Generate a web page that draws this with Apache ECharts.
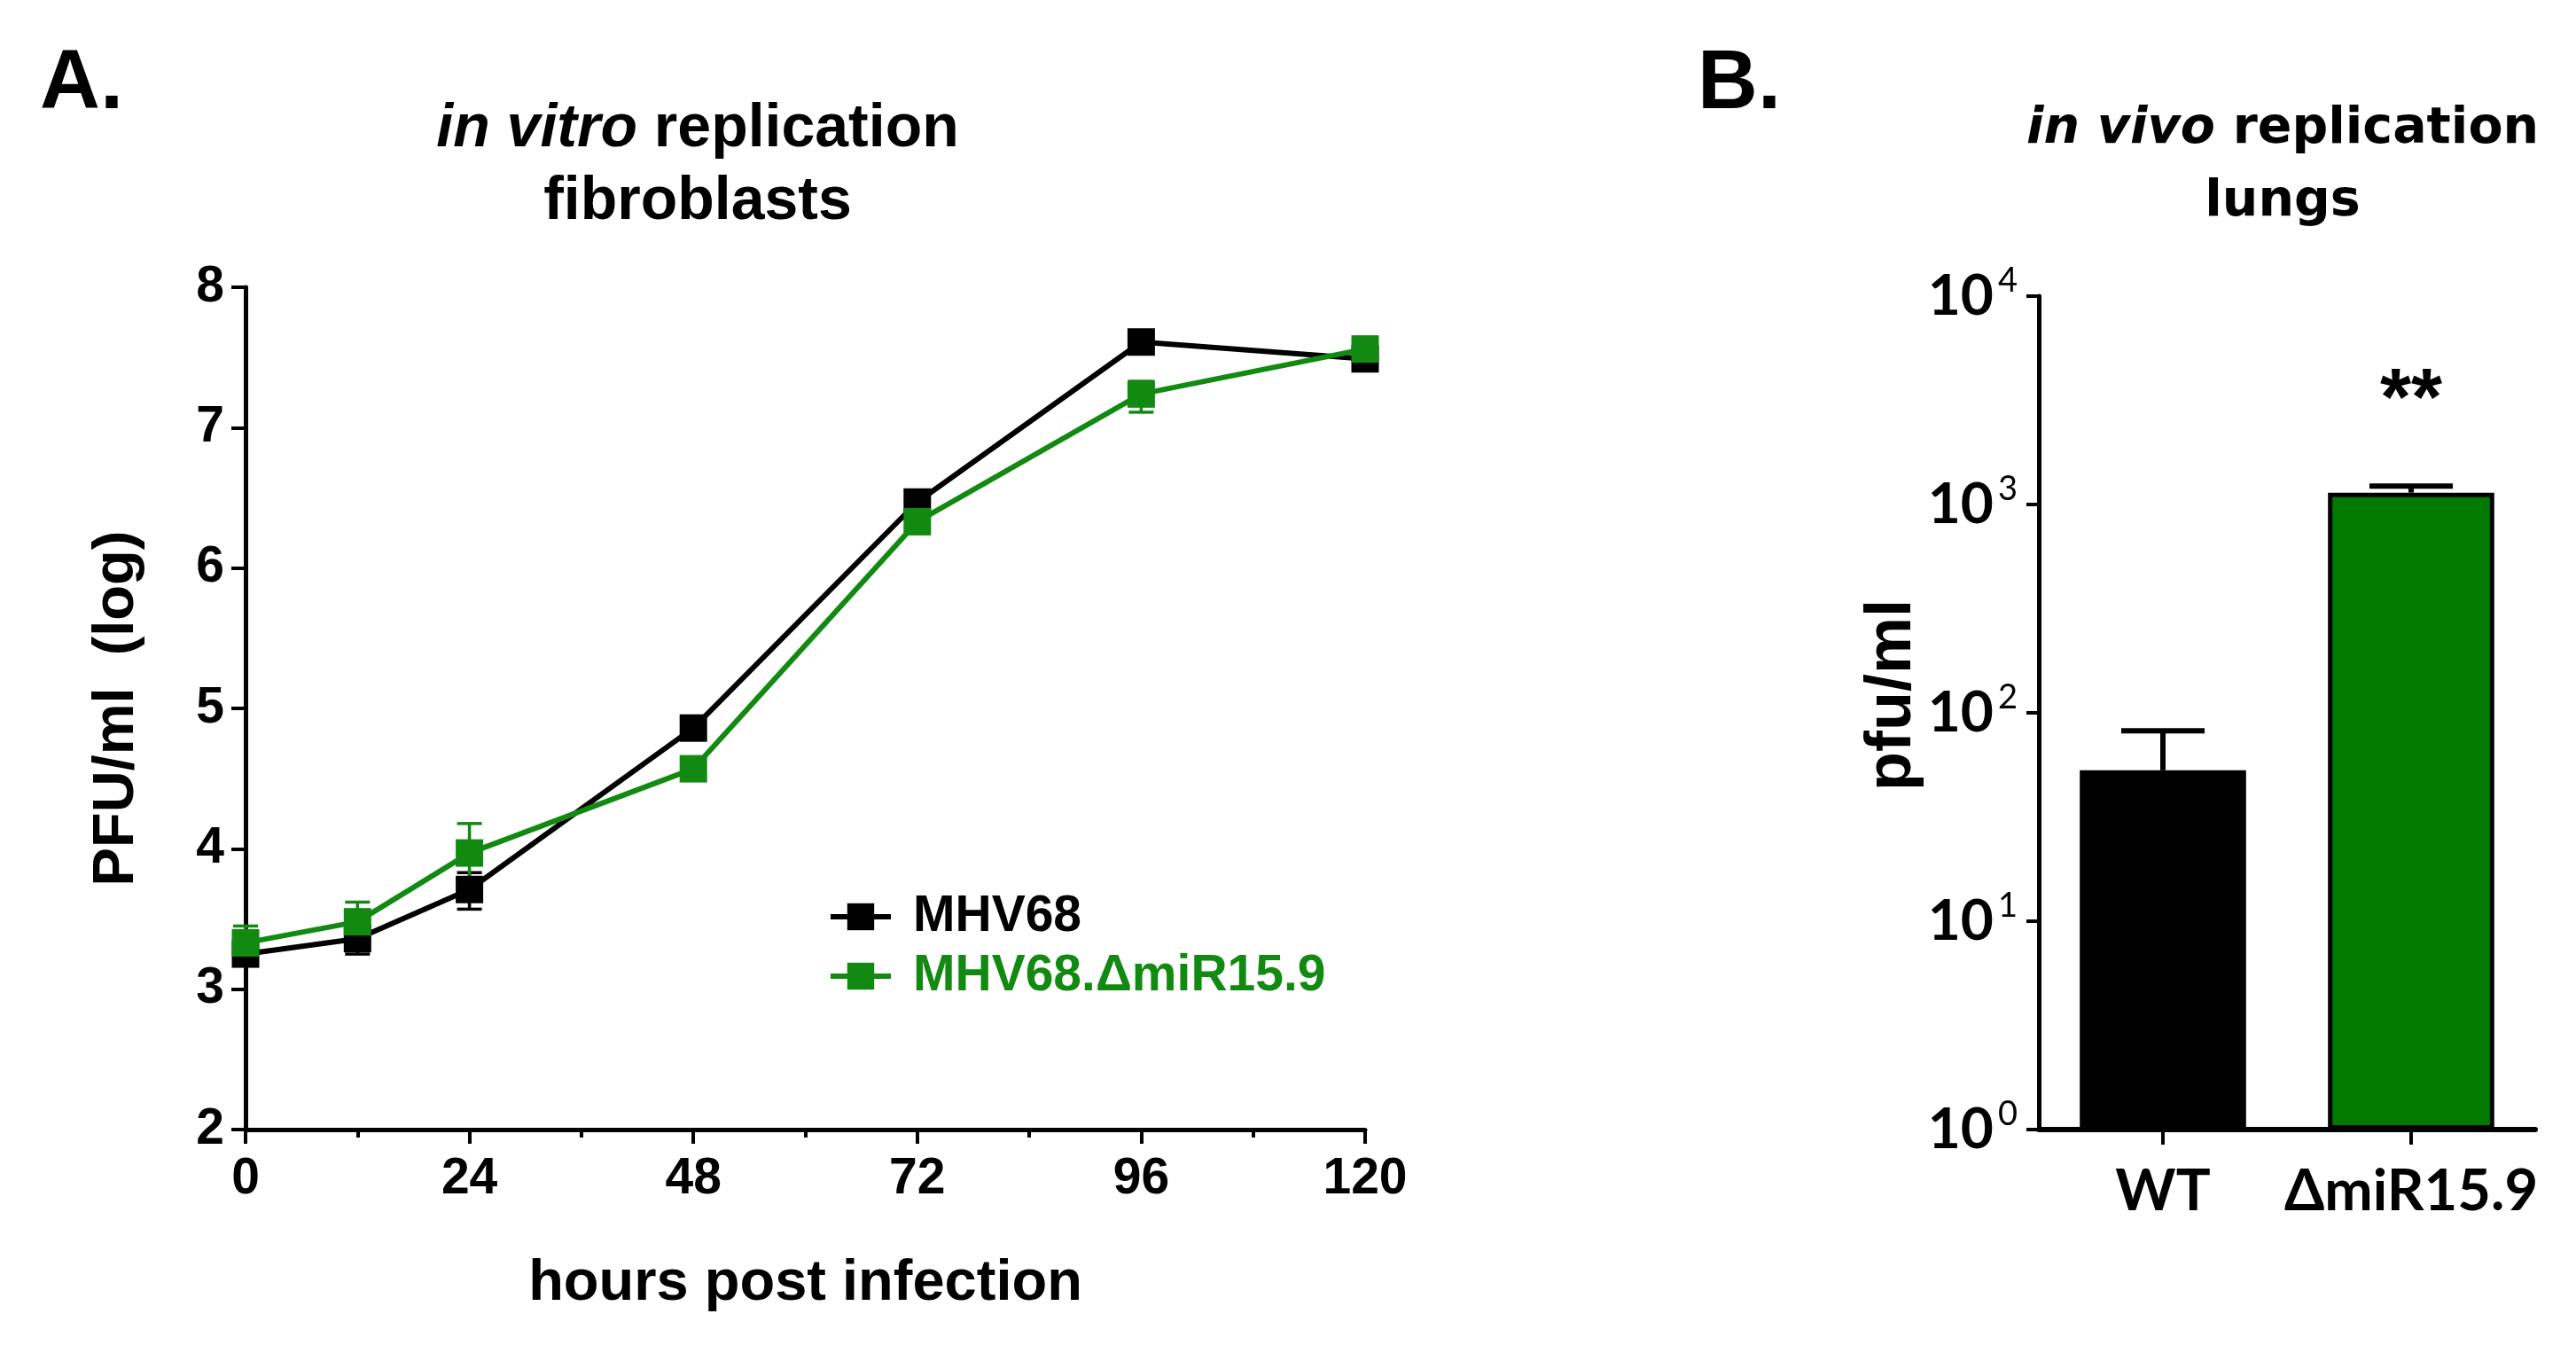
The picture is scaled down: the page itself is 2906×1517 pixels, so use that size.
<!DOCTYPE html>
<html>
<head>
<meta charset="utf-8">
<script src="https://cdn.jsdelivr.net/npm/echarts@6/dist/echarts.min.js"></script>
<style>
html,body{margin:0;padding:0;background:#fff;}
#c{width:2906px;height:1517px;}
</style>
</head>
<body>
<div id="c"></div>
<script>
// ---- Panel A data ----
const hours = [0, 12, 24, 48, 72, 96, 120];
const wtMean = [3.25, 3.36, 3.71, 4.86, 6.47, 7.61, 7.49];
const wtLow  = [3.20, 3.25, 3.57, 4.80, 6.42, 7.57, 7.45];
const wtHigh = [3.30, 3.45, 3.83, 4.92, 6.52, 7.65, 7.53];
const koMean = [3.33, 3.48, 3.97, 4.57, 6.33, 7.24, 7.56];
const koLow  = [3.21, 3.36, 3.77, 4.52, 6.28, 7.11, 7.52];
const koHigh = [3.45, 3.62, 4.18, 4.62, 6.38, 7.33, 7.60];
// ---- Panel B data ----
const groups = ['WT', '\u0394miR15.9'];
const pfuMean = [53, 1140];
const pfuHigh = [82, 1225];
const signif = ['', '**'];

const BLACK = '#000000';
const GREEN_A = '#128a12';
const GREEN_B = '#017a01';
const FA = 'Liberation Sans, Arial, sans-serif';
const FB = 'Lato, "Noto Sans", sans-serif';

function zip3(x, a, b) { return x.map((v, i) => [v, a[i], b[i]]); }

function errRender(color) {
  return function (params, api) {
    const x = api.value(0);
    const lo = api.coord([x, api.value(1)]);
    const hi = api.coord([x, api.value(2)]);
    const w = 14;
    const st = { stroke: color, lineWidth: 3.5 };
    return { type: 'group', children: [
      { type: 'line', shape: { x1: lo[0], y1: lo[1], x2: hi[0], y2: hi[1] }, style: st },
      { type: 'line', shape: { x1: lo[0] - w, y1: lo[1], x2: lo[0] + w, y2: lo[1] }, style: st },
      { type: 'line', shape: { x1: hi[0] - w, y1: hi[1], x2: hi[0] + w, y2: hi[1] }, style: st }
    ]};
  };
}

const chart = echarts.init(document.getElementById('c'));
const option = {
  backgroundColor: '#fff',
  animation: false,
  title: [
    { text: '{i|in vitro\u00a0}{b|replication}\n{b|fibroblasts}', left: 782, top: 100, textAlign: 'center',
      textStyle: { rich: {
        i: { fontFamily: FA, fontSize: 68, fontWeight: 'bold', fontStyle: 'italic', color: '#000', lineHeight: 82 },
        b: { fontFamily: FA, fontSize: 68, fontWeight: 'bold', color: '#000', lineHeight: 82 } } } },
    { text: '{i|in vivo\u00a0}{b|replication}\n{b|lungs}', left: 2570, top: 100, textAlign: 'center',
      textStyle: { rich: {
        i: { fontFamily: 'DejaVu Sans', fontSize: 57, fontWeight: 'bold', fontStyle: 'italic', color: '#000', lineHeight: 82 },
        b: { fontFamily: 'DejaVu Sans', fontSize: 57, fontWeight: 'bold', color: '#000', lineHeight: 82 } } } },
    { text: 'A.', left: 40, top: 44, textStyle: { fontFamily: FA, fontSize: 94, fontWeight: 'bold', color: '#000' } },
    { text: 'B.', left: 1910, top: 44, textStyle: { fontFamily: FA, fontSize: 94, fontWeight: 'bold', color: '#000' } }
  ],
  legend: {
    left: 929, top: 1000, orient: 'vertical', itemWidth: 68, itemHeight: 38, itemGap: 9,
    lineStyle: { width: 6 },
    textStyle: { fontFamily: FA, fontSize: 57, fontWeight: 'bold', lineHeight: 58, padding: [0, 0, 0, 20] },
    data: [
      { name: 'MHV68', textStyle: { color: BLACK } },
      { name: 'MHV68.\u0394miR15.9', textStyle: { color: GREEN_A } }
    ]
  },
  grid: [
    { left: 277, top: 324, width: 1263, height: 950 },
    { left: 2300, top: 334, width: 560, height: 940 }
  ],
  xAxis: [
    { gridIndex: 0, type: 'value', min: 0, max: 120, interval: 24,
      name: 'hours post infection', nameLocation: 'middle', nameGap: 142,
      nameTextStyle: { fontFamily: FA, fontSize: 65, fontWeight: 'bold', color: '#000' },
      axisLine: { lineStyle: { color: '#000', width: 5 } },
      axisTick: { show: true, length: 16, lineStyle: { color: '#000', width: 4 } },
      minorTick: { show: true, splitNumber: 2, length: 9, lineStyle: { color: '#000', width: 4 } },
      splitLine: { show: false },
      axisLabel: { margin: 28, fontFamily: FA, fontSize: 57, fontWeight: 'bold', color: '#000' } },
    { gridIndex: 1, type: 'category', data: groups,
      axisLine: { lineStyle: { color: '#000', width: 6 } },
      axisTick: { show: true, alignWithLabel: true, length: 17, lineStyle: { color: '#000', width: 4 } },
      axisLabel: { interval: 0, margin: 38, fontFamily: FB, fontSize: 65, fontWeight: 'bold', color: '#000' } }
  ],
  yAxis: [
    { gridIndex: 0, type: 'value', min: 2, max: 8, interval: 1,
      name: 'PFU/ml  (log)', nameLocation: 'middle', nameGap: 112,
      nameTextStyle: { fontFamily: FA, fontSize: 65, fontWeight: 'bold', color: '#000' },
      axisLine: { show: true, lineStyle: { color: '#000', width: 5 } },
      axisTick: { show: true, length: 16, lineStyle: { color: '#000', width: 4 } },
      splitLine: { show: false },
      axisLabel: { margin: 24, fontFamily: FA, fontSize: 57, fontWeight: 'bold', color: '#000' } },
    { gridIndex: 1, type: 'log', logBase: 10, min: 1, max: 10000,
      name: 'pfu/ml', nameLocation: 'middle', nameGap: 118,
      nameTextStyle: { fontFamily: FA, fontSize: 72, fontWeight: 'bold', color: '#000', padding: [0, 0, 0, 40] },
      axisLine: { show: true, lineStyle: { color: '#000', width: 5 } },
      axisTick: { show: true, length: 14, lineStyle: { color: '#000', width: 4 } },
      splitLine: { show: false },
      axisLabel: { margin: 24, color: '#000',
        formatter: function (v) { return '{b|10}{s|' + Math.round(Math.log10(v)) + '}'; },
        rich: {
          b: { fontFamily: FB, fontSize: 64, fontWeight: 'bold', color: '#000' },
          s: { fontFamily: FB, fontSize: 38, fontWeight: 'normal', color: '#000', padding: [0, 0, 34, 5] }
        } } }
  ],
  series: [
    { type: 'custom', xAxisIndex: 0, yAxisIndex: 0, renderItem: errRender(BLACK),
      data: zip3(hours, wtLow, wtHigh), z: 2, silent: true },
    { type: 'custom', xAxisIndex: 0, yAxisIndex: 0, renderItem: errRender(GREEN_A),
      data: zip3(hours, koLow, koHigh), z: 2, silent: true },
    { name: 'MHV68', type: 'line', xAxisIndex: 0, yAxisIndex: 0,
      data: hours.map((h, i) => [h, wtMean[i]]), symbol: 'rect', symbolSize: 31,
      lineStyle: { color: BLACK, width: 6 }, itemStyle: { color: BLACK }, z: 3 },
    { name: 'MHV68.\u0394miR15.9', type: 'line', xAxisIndex: 0, yAxisIndex: 0,
      data: hours.map((h, i) => [h, koMean[i]]), symbol: 'rect', symbolSize: 31,
      lineStyle: { color: GREEN_A, width: 6 }, itemStyle: { color: GREEN_A }, z: 4 },
    { type: 'bar', xAxisIndex: 1, yAxisIndex: 1, barWidth: '67%',
      data: pfuMean.map((v, i) => ({ value: v, itemStyle: { color: i === 0 ? BLACK : GREEN_B } })),
      itemStyle: { borderColor: '#000', borderWidth: 5 }, z: 2 },
    { type: 'custom', xAxisIndex: 1, yAxisIndex: 1, z: 3, silent: true,
      data: groups.map((g, i) => [i, pfuMean[i], pfuHigh[i]]),
      renderItem: function (params, api) {
        const i = api.value(0);
        const lo = api.coord([i, api.value(1)]);
        const hi = api.coord([i, api.value(2)]);
        const w = 47;
        const st = { stroke: '#000', lineWidth: 6 };
        return { type: 'group', children: [
          { type: 'line', shape: { x1: lo[0], y1: lo[1], x2: hi[0], y2: hi[1] }, style: st },
          { type: 'line', shape: { x1: hi[0] - w, y1: hi[1], x2: hi[0] + w, y2: hi[1] }, style: st },
          { type: 'text', style: { text: signif[i], x: hi[0], y: hi[1] - 94, align: 'center', verticalAlign: 'middle',
              font: 'bold 90px "Liberation Sans", Arial, sans-serif', fill: '#000' } }
        ]};
      } }
  ]
};
chart.setOption(option);
</script>
</body>
</html>
